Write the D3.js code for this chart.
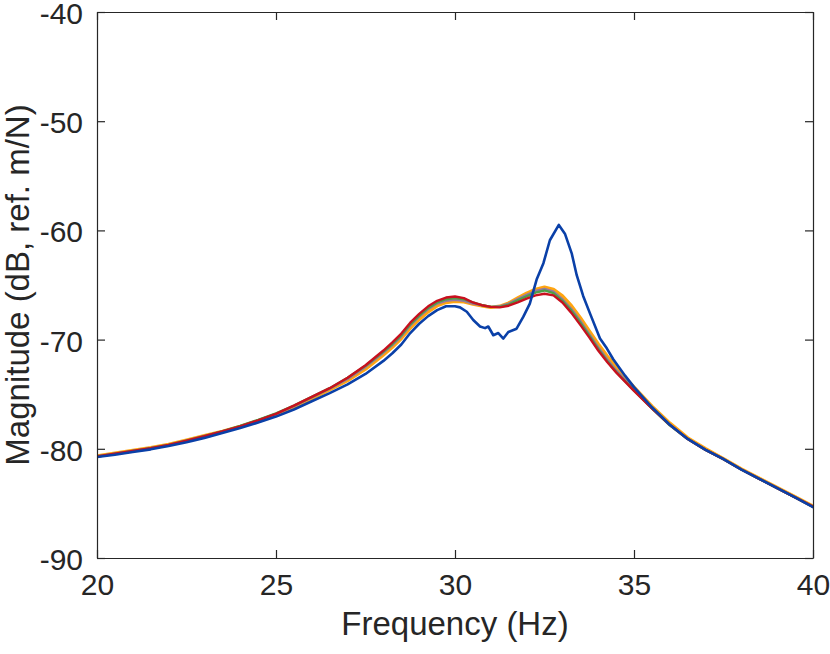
<!DOCTYPE html>
<html>
<head>
<meta charset="utf-8">
<script src="https://cdn.jsdelivr.net/npm/d3@7"></script>
<style>
    body { margin: 0; background: #ffffff; }
    svg { display: block; }
    .tick text { font-family: "Liberation Sans", Arial, Helvetica, sans-serif; fill: #262626; }
    .axis-label { font-family: "Liberation Sans", Arial, Helvetica, sans-serif; fill: #262626; }
</style>
</head>
<body>
<div id="chart"></div>
<script>
// Shared frequency grid (Hz) for the four closely matching curves
const freq = [20, 20.5, 21, 21.5, 22, 22.5, 23, 23.5, 24, 24.5, 25, 25.5, 26, 26.5, 27, 27.5, 28,
    28.25, 28.5, 28.75, 29, 29.25, 29.5, 29.75, 30, 30.25, 30.5, 30.75, 31, 31.25, 31.5, 31.75, 32,
    32.25, 32.5, 32.75, 33, 33.25, 33.5, 33.75, 34, 34.25, 34.5, 34.75, 35,
    35.5, 36, 36.5, 37, 37.5, 38, 38.5, 39, 39.5, 40];

// Magnitudes (dB, ref. m/N)
const magRed = [-80.7, -80.45, -80.2, -79.95, -79.65, -79.25, -78.85, -78.4, -77.95, -77.4, -76.8, -76.05, -75.25, -74.45, -73.5, -72.35, -71.0,
    -70.25, -69.45, -68.45, -67.65, -66.95, -66.45, -66.15, -66.05, -66.2, -66.6, -66.85, -67.0, -67.05, -66.9, -66.6, -66.25,
    -65.95, -65.8, -65.95, -66.6, -67.55, -68.65, -69.8, -71.0, -72.05, -73.0, -73.85, -74.7,
    -76.3, -77.8, -79.1, -80.1, -80.95, -81.9, -82.75, -83.6, -84.45, -85.3];

const magGreen = [-80.7, -80.45, -80.2, -79.95, -79.65, -79.25, -78.85, -78.4, -77.9, -77.35, -76.75, -76.05, -75.25, -74.45, -73.5, -72.4, -71.1,
    -70.4, -69.6, -68.6, -67.8, -67.1, -66.6, -66.3, -66.2, -66.3, -66.6, -66.85, -67.0, -67.0, -66.8, -66.4, -66.05,
    -65.7, -65.5, -65.75, -66.45, -67.35, -68.45, -69.65, -70.85, -71.95, -72.95, -73.8, -74.65,
    -76.3, -77.85, -79.1, -80.1, -80.95, -81.9, -82.75, -83.6, -84.45, -85.3];

const magPurple = [-80.7, -80.45, -80.2, -79.95, -79.65, -79.25, -78.85, -78.4, -77.95, -77.4, -76.8, -76.1, -75.3, -74.5, -73.6, -72.5, -71.2,
    -70.5, -69.7, -68.7, -67.9, -67.2, -66.7, -66.45, -66.35, -66.45, -66.7, -66.85, -67.0, -66.95, -66.7, -66.3, -65.9,
    -65.55, -65.35, -65.6, -66.3, -67.2, -68.3, -69.5, -70.7, -71.8, -72.8, -73.7, -74.6,
    -76.3, -77.8, -79.1, -80.1, -80.95, -81.9, -82.75, -83.6, -84.45, -85.3];

const magOrange = [-80.65, -80.4, -80.15, -79.9, -79.6, -79.2, -78.8, -78.4, -77.95, -77.45, -76.85, -76.2, -75.4, -74.6, -73.75, -72.7, -71.4,
    -70.7, -69.9, -68.95, -68.15, -67.45, -66.9, -66.6, -66.5, -66.55, -66.75, -66.9, -67.05, -66.95, -66.65, -66.2, -65.75,
    -65.4, -65.2, -65.4, -66.0, -66.9, -68.0, -69.2, -70.4, -71.5, -72.5, -73.45, -74.35,
    -76.1, -77.65, -79.0, -80.0, -80.9, -81.85, -82.7, -83.55, -84.4, -85.25];

// The blue curve has its own, finer grid around the split peak
const blueFreq = [20, 20.5, 21, 21.5, 22, 22.5, 23, 23.5, 24, 24.5, 25, 25.5, 26, 26.5, 27, 27.5, 28,
    28.25, 28.5, 28.75, 29, 29.25, 29.5, 29.75,
    30, 30.14, 30.33, 30.51, 30.7, 30.84, 30.93, 31.07, 31.21, 31.35, 31.49, 31.72, 31.91, 32.09,
    32.28, 32.47, 32.65, 32.9, 33.07, 33.26, 33.4, 33.58, 33.77, 34.05, 34.24, 34.42, 34.75, 35,
    35.5, 36, 36.5, 37, 37.5, 38, 38.5, 39, 39.5, 40];

const magBlue = [-80.75, -80.55, -80.3, -80.05, -79.75, -79.4, -79.0, -78.55, -78.1, -77.6, -77.05, -76.4, -75.65, -74.9, -74.1, -73.15, -71.95,
    -71.25, -70.45, -69.4, -68.55, -67.85, -67.3, -66.95,
    -66.95, -67.05, -67.45, -68.2, -68.8, -68.95, -68.8, -69.6, -69.4, -69.9, -69.3, -69.0, -67.9, -66.7,
    -64.5, -63.0, -60.9, -59.5, -60.3, -62.1, -64.1, -66.0, -67.6, -69.9, -70.8, -71.8, -73.3, -74.35,
    -76.2, -77.8, -79.1, -80.1, -80.95, -81.9, -82.75, -83.6, -84.45, -85.35];

const xTicks = [20, 25, 30, 35, 40];
const yTicks = [-90, -80, -70, -60, -50, -40];

// Drawing order: first drawn ends up underneath
const series = [
    {name: 'orange', x: freq, y: magOrange, color: '#ffa510', width: 3.4},
    {name: 'purple', x: freq, y: magPurple, color: '#9577a2', width: 2.4},
    {name: 'green', x: freq, y: magGreen, color: '#4c9f48', width: 2.4},
    {name: 'red', x: freq, y: magRed, color: '#c8101e', width: 2.4},
    {name: 'blue', x: blueFreq, y: magBlue, color: '#0a40a8', width: 2.6}
];

const attributes = {
    width: 830,
    height: 654,
    margin: {top: 12, right: 17, bottom: 96, left: 97},
    tick: 8,
    axis_color: '#262626'
};

const plot_w = attributes.width - attributes.margin.left - attributes.margin.right;
const plot_h = attributes.height - attributes.margin.top - attributes.margin.bottom;

const svg = d3.select('#chart')
    .append('svg')
    .attr('width', attributes.width)
    .attr('height', attributes.height);

const g = svg.append('g')
    .attr('transform', 'translate(' + attributes.margin.left + ',' + attributes.margin.top + ')');

const x_scale = d3.scaleLinear().domain([20, 40]).range([0, plot_w]);
const y_scale = d3.scaleLinear().domain([-90, -40]).range([plot_h, 0]);

// Curves, clipped to the axes box
g.append('clipPath').attr('id', 'plot-clip')
    .append('rect').attr('width', plot_w).attr('height', plot_h);

const line = d3.line()
    .x(d => x_scale(d[0]))
    .y(d => y_scale(d[1]));

g.append('g')
    .attr('clip-path', 'url(#plot-clip)')
    .selectAll('path')
    .data(series)
    .join('path')
    .attr('class', d => 'curve curve-' + d.name)
    .attr('fill', 'none')
    .attr('stroke', d => d.color)
    .attr('stroke-width', d => d.width)
    .attr('stroke-linejoin', 'round')
    .attr('stroke-linecap', 'round')
    .attr('d', d => line(d.x.map((f, i) => [f, d.y[i]])));

// Axes with inward ticks on all four sides
function style_axis(sel) {
    sel.select('.domain').attr('stroke', attributes.axis_color).attr('stroke-width', 1.2);
    sel.selectAll('.tick line').attr('stroke', attributes.axis_color).attr('stroke-width', 1.2);
}

g.append('g')
    .attr('class', 'x axis')
    .attr('transform', 'translate(0,' + plot_h + ')')
    .call(d3.axisBottom(x_scale).tickValues(xTicks).tickSizeInner(-attributes.tick).tickSizeOuter(0)
        .tickPadding(16).tickFormat(d => String(d)))
    .call(style_axis)
    .selectAll('text').style('font-size', '30px');

g.append('g')
    .attr('class', 'x axis top')
    .call(d3.axisTop(x_scale).tickValues(xTicks).tickSizeInner(-attributes.tick).tickSizeOuter(0)
        .tickFormat(''))
    .call(style_axis);

g.append('g')
    .attr('class', 'y axis')
    .call(d3.axisLeft(y_scale).tickValues(yTicks).tickSizeInner(-attributes.tick).tickSizeOuter(0)
        .tickPadding(14).tickFormat(d => String(d)))
    .call(style_axis)
    .selectAll('text')
    .attr('dy', '0.38em')
    .style('font-size', '30px');

g.append('g')
    .attr('class', 'y axis right')
    .attr('transform', 'translate(' + plot_w + ',0)')
    .call(d3.axisRight(y_scale).tickValues(yTicks).tickSizeInner(-attributes.tick).tickSizeOuter(0)
        .tickFormat(''))
    .call(style_axis);

// Axis labels
svg.append('text')
    .attr('class', 'axis-label')
    .attr('text-anchor', 'middle')
    .attr('x', attributes.margin.left + plot_w / 2)
    .attr('y', 635)
    .style('font-size', '33px')
    .text('Frequency (Hz)');

svg.append('text')
    .attr('class', 'axis-label')
    .attr('text-anchor', 'middle')
    .attr('transform', 'translate(29,' + (attributes.margin.top + plot_h / 2) + ') rotate(-90)')
    .style('font-size', '33px')
    .text('Magnitude (dB, ref. m/N)');
</script>
</body>
</html>
